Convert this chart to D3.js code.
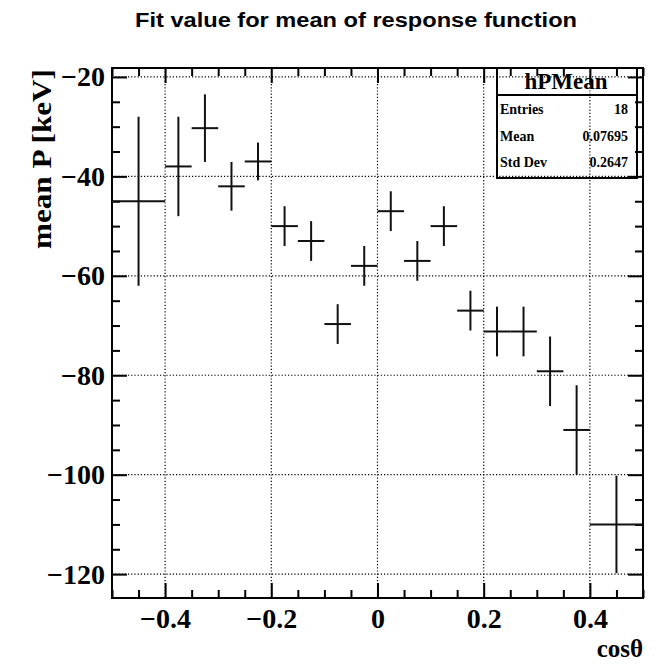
<!DOCTYPE html>
<html>
<head>
<meta charset="utf-8">
<script src="https://cdn.jsdelivr.net/npm/d3@7"></script>
<style>
  html, body { margin:0; padding:0; background:#fff; }
  svg { display:block; }
  .axis text { font-family:"Liberation Serif", "Times New Roman", serif; font-weight:bold; fill:#000; }
  .axis line { stroke:#000; stroke-width:2; }
</style>
</head>
<body>
<svg id="canvas" width="659" height="664"></svg>
<script>
// bin edges (variable width) and fitted mean with its error per bin
const binEdges = [-0.5,-0.4,-0.35,-0.3,-0.25,-0.2,-0.15,-0.1,-0.05,0,0.05,0.1,0.15,0.2,0.25,0.3,0.35,0.4,0.5];
const meanP    = [-45,-38,-30.3,-42,-37,-50,-53,-69.7,-58,-47,-57,-50,-67,-71.2,-71.2,-79.2,-91,-110];
const meanErr  = [17,10,6.8,4.9,3.8,4,4,4,4,4,4,4,4,5,5,7,9,9.8];

const xMajor = [-0.4,-0.2,0,0.2,0.4];
const yMajor = [-120,-100,-80,-60,-40,-20];

const statLabels = ['Entries','Mean','Std Dev'];
const statValues = ['18','0.07695','0.2647'];

const svg = d3.select('#canvas');
const L = 112, R = 643, T = 68, B = 598;

const x = d3.scaleLinear().domain([-0.5, 0.5]).range([L, R]);
const y = d3.scaleLinear().domain([-124.8, -18.2]).range([B, T]);

const xMinor = d3.range(-0.5, 0.5001, 0.05).map(v => +v.toFixed(2)).filter(v => !xMajor.includes(v));
const yMinor = d3.range(-120, -18, 5).filter(v => !yMajor.includes(v));

const fmt = d => d === 0 ? '0' : d3.format('')(d).replace('-', '\u2212');

// title
svg.append('text').attr('x', 356).attr('y', 27).attr('text-anchor', 'middle')
  .style('font-family', '"Liberation Sans", Arial, sans-serif').style('font-weight', 'bold')
  .style('font-size', '20px').attr('textLength', 442).attr('lengthAdjust', 'spacingAndGlyphs')
  .text('Fit value for mean of response function');

// stats box (under the grid, as in the original)
const sb = svg.append('g');
sb.append('rect').attr('x', 497).attr('y', T).attr('width', 140).attr('height', 110)
  .attr('fill', '#fff').attr('stroke', '#000').attr('stroke-width', 2);
sb.append('line').attr('x1', 497).attr('x2', 637).attr('y1', 95).attr('y2', 95)
  .attr('stroke', '#000').attr('stroke-width', 2);

// dotted grid
const grid = svg.append('g').attr('stroke', '#000').attr('stroke-width', 1.2).attr('stroke-dasharray', '1.2,2');
grid.selectAll('.gx').data(xMajor).join('line')
  .attr('x1', d => x(d)).attr('x2', d => x(d)).attr('y1', T).attr('y2', B);
grid.selectAll('.gy').data(yMajor).join('line')
  .attr('y1', d => y(d)).attr('y2', d => y(d)).attr('x1', L).attr('x2', R);

// stats text
const st = svg.append('g').style('font-family', '"Liberation Serif", "Times New Roman", serif').style('font-weight', 'bold');
st.append('text').attr('x', 566).attr('y', 89).attr('text-anchor', 'middle')
  .style('font-size', '23px').text('hPMean');
statLabels.forEach((s, i) => {
  st.append('text').attr('x', 500).attr('y', 114 + i * 26.5).style('font-size', '14px').text(s);
  st.append('text').attr('x', 628).attr('y', 114 + i * 26.5).attr('text-anchor', 'end')
    .style('font-size', '14px').text(statValues[i]);
});

// axes: major with labels, minor without, mirrored on top/right
function ax(gen, tx, ty) {
  const g = svg.append('g').attr('class', 'axis').attr('transform', `translate(${tx},${ty})`).call(gen);
  g.select('.domain').remove();
  return g;
}
ax(d3.axisBottom(x).tickValues(xMajor).tickSize(-15).tickSizeOuter(0).tickPadding(10).tickFormat(fmt), 0, B)
  .selectAll('text').style('font-size', '28px').attr('dy', '0.71em');
ax(d3.axisBottom(x).tickValues(xMinor).tickSize(-8).tickFormat(''), 0, B);
ax(d3.axisTop(x).tickValues(xMajor).tickSize(-15).tickFormat(''), 0, T);
ax(d3.axisTop(x).tickValues(xMinor).tickSize(-8).tickFormat(''), 0, T);
ax(d3.axisLeft(y).tickValues(yMajor).tickSize(-15).tickSizeOuter(0).tickPadding(7).tickFormat(fmt), L, 0)
  .selectAll('text').style('font-size', '28px');
ax(d3.axisLeft(y).tickValues(yMinor).tickSize(-8).tickFormat(''), L, 0);
ax(d3.axisRight(y).tickValues(yMajor).tickSize(-15).tickFormat(''), R, 0);
ax(d3.axisRight(y).tickValues(yMinor).tickSize(-8).tickFormat(''), R, 0);

// frame
svg.append('rect').attr('x', L).attr('y', T).attr('width', R - L).attr('height', B - T)
  .attr('fill', 'none').attr('stroke', '#000').attr('stroke-width', 2);

// error-bar crosses
const bins = meanP.map((v, i) => ({ lo: binEdges[i], hi: binEdges[i + 1], v, e: meanErr[i] }));
const marks = svg.append('g').attr('stroke', '#111').attr('stroke-width', 2);
marks.selectAll('.h').data(bins).join('line')
  .attr('x1', d => x(d.lo)).attr('x2', d => x(d.hi)).attr('y1', d => y(d.v)).attr('y2', d => y(d.v));
marks.selectAll('.v').data(bins).join('line')
  .attr('x1', d => x((d.lo + d.hi) / 2)).attr('x2', d => x((d.lo + d.hi) / 2))
  .attr('y1', d => y(d.v - d.e)).attr('y2', d => y(Math.min(d.v + d.e, -18.2)));

// axis titles
const serif = '"Liberation Serif", "Times New Roman", serif';
svg.append('text').attr('transform', 'translate(51,69) rotate(-90)').attr('text-anchor', 'end')
  .style('font-family', serif).style('font-weight', 'bold').style('font-size', '27px')
  .attr('textLength', 180).attr('lengthAdjust', 'spacingAndGlyphs').text('mean P [keV]');
svg.append('text').attr('x', 643).attr('y', 657).attr('text-anchor', 'end')
  .style('font-family', serif).style('font-weight', 'bold').style('font-size', '25px').text('cos\u03b8');
</script>
</body>
</html>
